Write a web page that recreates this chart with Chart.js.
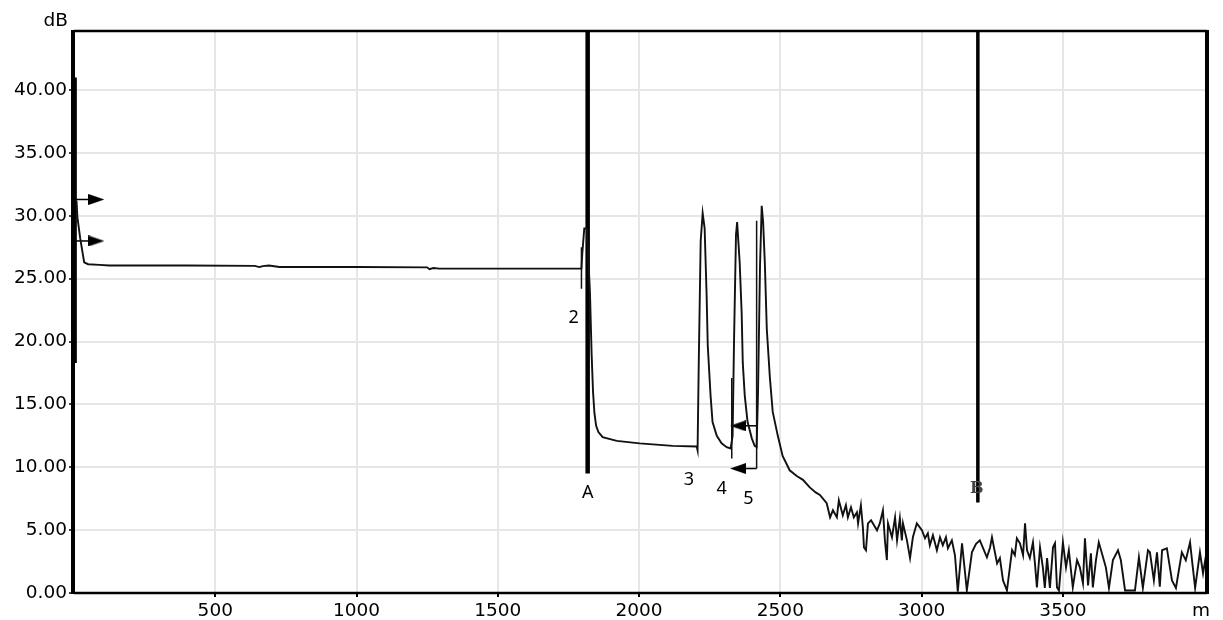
<!DOCTYPE html>
<html>
<head>
<meta charset="utf-8">
<script src="https://cdn.jsdelivr.net/npm/chart.js@4.4.0/dist/chart.umd.min.js"></script>
<style>
  html, body { margin: 0; padding: 0; background: #fff; }
  #wrap { width: 1223px; height: 620px; }
</style>
</head>
<body>
<div id="wrap"><canvas id="otdr" width="1223" height="620"></canvas></div>
<script>
// axis ticks
const xTicks = [500, 1000, 1500, 2000, 2500, 3000, 3500];
const yTicks = [0, 5, 10, 15, 20, 25, 30, 35, 40];

// OTDR trace, distance (m) / loss (dB)
const traceDist = [
  9, 12, 22, 36, 50, 90, 125, 400, 640, 656, 668, 690, 727, 1000, 1250, 1258, 1272, 1293, 1796,
  1799, 1806, 1815, 1826, 1832, 1837, 1842, 1848, 1856, 1871, 1921, 2002, 2119, 2204, 2207,
  2211, 2218, 2225, 2232, 2239, 2243, 2253, 2260, 2275, 2292, 2310, 2324,
  2331, 2336, 2343, 2347, 2356, 2363, 2367, 2374, 2384, 2399, 2409, 2416,
  2421, 2428, 2434, 2439, 2445, 2452, 2463, 2473, 2491, 2508, 2533, 2558, 2580, 2604, 2625, 2640,
  2664, 2676, 2686, 2700, 2707, 2721, 2732, 2739, 2750, 2760, 2771, 2775, 2785, 2792, 2796,
  2803, 2810, 2821, 2842, 2852, 2863, 2870, 2877, 2881, 2895, 2906, 2913, 2923, 2930, 2934,
  2948, 2959, 2969, 2983, 3001, 3012, 3022, 3029, 3040, 3054, 3065, 3075, 3086, 3093, 3107,
  3118, 3128, 3143, 3160, 3178, 3192, 3206, 3231, 3242, 3249, 3267, 3277, 3288, 3302, 3320,
  3330, 3337, 3348, 3359, 3366, 3373, 3383, 3394, 3401, 3408, 3419, 3429, 3436, 3444, 3454,
  3465, 3472, 3479, 3486, 3500, 3511, 3521, 3535, 3550, 3560, 3571, 3578, 3589, 3599, 3606,
  3617, 3627, 3642, 3652, 3663, 3677, 3695, 3705, 3720, 3755, 3769, 3783, 3801, 3808, 3822,
  3833, 3843, 3851, 3868, 3886, 3900, 3921, 3935, 3950, 3960, 3968, 3985, 3996, 4008
];
const traceLoss = [
  31.2, 29.9, 28.2, 26.3, 26.15, 26.1, 26.05, 26.05, 26.02, 25.92, 26.0, 26.05, 25.93, 25.93, 25.9, 25.75, 25.85, 25.8, 25.8,
  27.0, 29.0, 29.0, 24.0, 19.0, 16.0, 14.3, 13.3, 12.8, 12.4, 12.1, 11.9, 11.7, 11.65, 11.35,
  18.0, 28.0, 30.2, 29.0, 23.7, 19.7, 15.7, 13.6, 12.5, 11.9, 11.6, 11.5,
  12.5, 20.0, 28.5, 29.5, 26.3, 22.3, 18.3, 15.7, 13.6, 12.3, 11.7, 11.6,
  16.0, 26.0, 30.8, 29.5, 26.3, 21.0, 17.1, 14.4, 12.5, 10.9, 9.76, 9.3, 9.0, 8.4, 8.0, 7.8,
  7.14, 6.02, 6.58, 6.02, 7.37, 6.18, 6.98, 6.02, 6.82, 6.02, 6.42, 5.54, 6.98, 5.23, 3.63,
  3.4, 5.54, 5.78, 4.99, 5.54, 6.58, 4.19, 2.62, 5.54, 4.43, 6.02, 4.19, 5.94, 4.19, 5.54,
  4.19, 2.78, 4.43, 5.54, 4.99, 4.35, 4.75, 3.79, 4.59, 3.4, 4.43, 3.79, 4.43, 3.56, 4.19,
  3.0, 0.1, 3.95, 0.21, 3.24, 3.9, 4.19, 2.84, 3.6, 4.43, 2.36, 2.78, 1.0, 0.21, 3.41,
  3.0, 4.35, 3.95, 3.0, 5.54, 3.4, 2.78, 4.03, 2.36, 0.45, 3.63, 2.04, 0.4, 2.78, 0.4,
  3.63, 3.95, 0.45, 0.2, 4.03, 2.04, 3.4, 0.45, 2.62, 2.04, 0.77, 4.35, 0.6, 3.16, 0.45,
  2.62, 4.03, 2.84, 2.04, 0.4, 2.62, 3.4, 2.62, 0.2, 0.2, 2.84, 0.4, 3.4, 3.24, 1.0,
  3.24, 0.5, 3.4, 3.56, 1.0, 0.4, 3.24, 2.6, 4.03, 2.0, 0.4, 3.24, 1.57, 3.2
];

// launch pulse at the start
const pulseDist = [3, 3];
const pulseLoss = [18.3, 41.0];

// cursors A and B
const cursorName = ['A', 'B'];
const cursorDist = [1818, 3199];
const cursorBottom = [9.5, 7.2];
const cursorLabelLoss = [8.0, 8.3];

// event ticks
const eventDist = [1796, 2328, 2416];
const eventTop = [27.5, 17.1, 29.6];
const eventBottom = [24.2, 10.7, 9.9];

// arrows (head at arrowEnd)
const arrowStart = [0, 0, 2416, 2416];
const arrowEnd = [79, 79, 2350, 2350];
const arrowLoss = [31.3, 28.0, 13.3, 9.9];

// event numbers
const tagText = ['2', '3', '4', '5'];
const tagDist = [1768, 2176, 2292, 2387];
const tagLoss = [21.9, 9.0, 8.3, 7.5];

const X_MAX = 4010;
const Y_MAX = 44.7;

function head(dir) {
  const c = document.createElement('canvas');
  c.width = 16; c.height = 11;
  const g = c.getContext('2d');
  g.fillStyle = '#000';
  g.beginPath();
  if (dir > 0) { g.moveTo(0, 0); g.lineTo(16, 5.5); g.lineTo(0, 11); }
  else { g.moveTo(16, 0); g.lineTo(0, 5.5); g.lineTo(16, 11); }
  g.closePath();
  g.fill();
  return c;
}
const headRight = head(1);
const headLeft = head(-1);

const datasets = [];
datasets.push({
  data: traceDist.map((d, i) => ({ x: d, y: traceLoss[i] })),
  borderColor: '#111', borderWidth: 1.9
});
datasets.push({
  data: pulseDist.map((d, i) => ({ x: d, y: pulseLoss[i] })),
  borderColor: '#000', borderWidth: 4
});
cursorDist.forEach((d, i) => {
  datasets.push({
    data: [{ x: d, y: Y_MAX }, { x: d, y: cursorBottom[i] }],
    borderColor: '#000', borderWidth: i === 0 ? 4.5 : 3.5
  });
});
eventDist.forEach((d, i) => {
  datasets.push({
    data: [{ x: d, y: eventTop[i] }, { x: d, y: eventBottom[i] }],
    borderColor: '#111', borderWidth: 1.5
  });
});
arrowStart.forEach((d, i) => {
  const right = arrowEnd[i] > d;
  datasets.push({
    data: [{ x: d, y: arrowLoss[i] }, { x: arrowEnd[i], y: arrowLoss[i] }],
    borderColor: '#000', borderWidth: 1.5,
    pointRadius: [0, 5],
    pointStyle: right ? headRight : headLeft
  });
});

const frame = {
  id: 'frame',
  afterDatasetsDraw(chart) {
    const { ctx, chartArea: a, scales: { x, y } } = chart;
    ctx.save();
    ctx.strokeStyle = '#000';
    ctx.lineWidth = 2.5;
    ctx.beginPath();
    ctx.moveTo(a.left, a.top); ctx.lineTo(a.right, a.top);
    ctx.moveTo(a.left, a.bottom); ctx.lineTo(a.right, a.bottom);
    ctx.stroke();
    ctx.lineWidth = 4;
    ctx.beginPath();
    ctx.moveTo(a.left - 1, a.top - 1); ctx.lineTo(a.left - 1, a.bottom + 1);
    ctx.moveTo(a.right, a.top - 1); ctx.lineTo(a.right, a.bottom + 1);
    ctx.stroke();

    ctx.fillStyle = '#000';
    ctx.font = '18.5px "DejaVu Sans"';
    ctx.textBaseline = 'middle';
    ctx.textAlign = 'right';
    ctx.fillText('dB', a.left - 6, 21);
    ctx.textAlign = 'center';
    ctx.fillText('m', a.right - 6, 611);

    ctx.font = '18px "Noto Sans"';
    tagText.forEach((t, i) => {
      ctx.fillText(t, x.getPixelForValue(tagDist[i]), y.getPixelForValue(tagLoss[i]));
    });
    ctx.fillText(cursorName[0], x.getPixelForValue(cursorDist[0]), y.getPixelForValue(cursorLabelLoss[0]));
    ctx.fillStyle = '#444';
    ctx.font = 'bold 16px "DejaVu Serif"';
    ctx.fillText(cursorName[1], x.getPixelForValue(cursorDist[1]) - 1, y.getPixelForValue(cursorLabelLoss[1]));
    ctx.restore();
  }
};

new Chart(document.getElementById('otdr'), {
  type: 'scatter',
  data: { datasets },
  options: {
    responsive: false,
    animation: false,
    devicePixelRatio: 1,
    events: [],
    showLine: true,
    elements: {
      point: { radius: 0 },
      line: { tension: 0 }
    },
    layout: { padding: { top: 31, right: 16, left: 0, bottom: 0 } },
    plugins: { legend: { display: false }, tooltip: { enabled: false } },
    scales: {
      x: {
        type: 'linear', min: 0, max: X_MAX,
        afterBuildTicks: s => { s.ticks = xTicks.map(v => ({ value: v })); },
        afterFit: s => { s.height = 27; },
        border: { display: false },
        grid: { color: '#e6e6e6', lineWidth: 2, tickColor: '#000', tickLength: 4, tickWidth: 2 },
        ticks: {
          color: '#000', padding: 3, maxRotation: 0, autoSkip: false,
          font: { family: 'DejaVu Sans', size: 18.5 },
          callback: v => String(v)
        }
      },
      y: {
        type: 'linear', min: 0, max: Y_MAX,
        afterBuildTicks: s => { s.ticks = yTicks.map(v => ({ value: v })); },
        afterFit: s => { s.width = 74; },
        border: { display: false },
        grid: { color: '#e6e6e6', lineWidth: 2, tickColor: '#000', tickLength: 5, tickWidth: 1.5 },
        ticks: {
          color: '#000', padding: 2, autoSkip: false,
          font: { family: 'DejaVu Sans', size: 18.5 },
          callback: v => v.toFixed(2)
        }
      }
    }
  },
  plugins: [frame]
});
</script>
</body>
</html>
